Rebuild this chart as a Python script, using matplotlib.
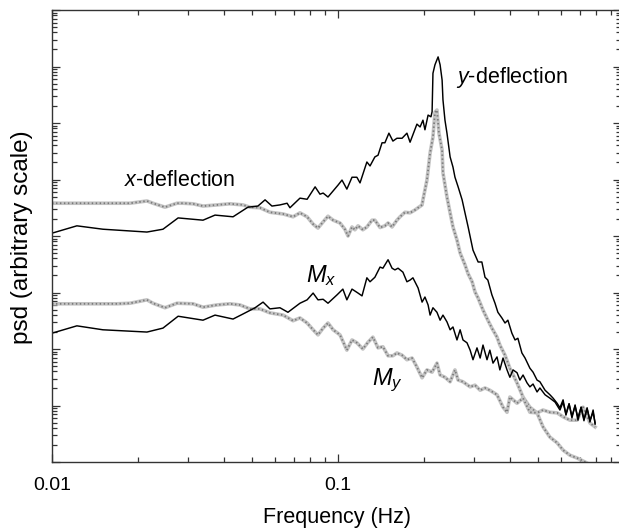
import numpy as np
import matplotlib
matplotlib.use("Agg")
import matplotlib.pyplot as plt
from matplotlib.ticker import LogLocator, NullFormatter, FixedLocator, FixedFormatter

plt.rcParams['font.family'] = ['Liberation Sans', 'DejaVu Sans']
plt.rcParams['mathtext.fontset'] = 'custom'
plt.rcParams['mathtext.it'] = 'Liberation Sans:italic'
plt.rcParams['mathtext.rm'] = 'Liberation Sans'

# ---- data: log10(frequency / Hz) and log10(psd, arbitrary units) ----
ydef_logf = [-2.000, -1.913, -1.822, -1.668, -1.612, -1.559, -1.472, -1.430, -1.367, -1.315,
             -1.280, -1.255, -1.231, -1.203, -1.178, -1.168, -1.133, -1.108, -1.080, -1.063,
             -1.052, -1.035, -1.000, -0.986, -0.969, -0.951, -0.934, -0.923, -0.899, -0.888,
             -0.871, -0.860, -0.846, -0.836, -0.822, -0.808, -0.794, -0.776, -0.759, -0.748,
             -0.724, -0.713, -0.703, -0.696, -0.685, -0.675, -0.671, -0.668, -0.661, -0.654,
             -0.650, -0.643, -0.636, -0.633, -0.626, -0.619, -0.608, -0.598, -0.591, -0.580,
             -0.566, -0.556, -0.545, -0.528, -0.510, -0.497, -0.486, -0.476, -0.462, -0.451,
             -0.441, -0.427, -0.416, -0.406, -0.392, -0.381, -0.371, -0.357, -0.346, -0.329,
             -0.318, -0.304, -0.294, -0.276, -0.259, -0.248, -0.234, -0.224, -0.213, -0.203,
             -0.192, -0.182, -0.171, -0.161, -0.150, -0.140, -0.129, -0.119, -0.108, -0.101]
ydef_logp = [4.05, 4.18, 4.12, 4.07, 4.12, 4.32, 4.28, 4.37, 4.34, 4.51,
             4.53, 4.64, 4.53, 4.55, 4.58, 4.50, 4.67, 4.65, 4.87, 4.74,
             4.76, 4.69, 4.90, 4.99, 4.83, 5.04, 5.04, 4.94, 5.31, 5.24,
             5.40, 5.43, 5.65, 5.65, 5.82, 5.68, 5.73, 5.73, 5.82, 5.66,
             5.98, 5.93, 6.05, 5.88, 6.14, 6.11, 6.20, 6.88, 7.03, 7.12,
             7.17, 7.03, 6.76, 6.41, 6.05, 5.82, 5.40, 5.22, 5.04, 4.87,
             4.64, 4.41, 4.16, 3.75, 3.54, 3.54, 3.27, 3.22, 2.96, 2.81,
             2.65, 2.55, 2.46, 2.51, 2.28, 2.16, 2.19, 1.93, 1.84, 1.66,
             1.59, 1.45, 1.42, 1.27, 1.19, 1.13, 1.04, 0.96, 1.10, 0.83,
             1.03, 0.78, 1.01, 0.74, 0.97, 0.73, 0.96, 0.71, 0.92, 0.67]

xdef_logf = [-2.000, -1.773, -1.727, -1.668, -1.647, -1.605, -1.563, -1.542, -1.507, -1.472,
             -1.423, -1.378, -1.332, -1.308, -1.273, -1.238, -1.192, -1.157, -1.133, -1.108,
             -1.087, -1.070, -1.052, -1.035, -1.017, -0.993, -0.976, -0.965, -0.951, -0.941,
             -0.930, -0.913, -0.899, -0.881, -0.871, -0.853, -0.836, -0.825, -0.811, -0.794,
             -0.783, -0.766, -0.748, -0.731, -0.720, -0.706, -0.703, -0.689, -0.678, -0.668,
             -0.661, -0.654, -0.647, -0.636, -0.633, -0.619, -0.608, -0.598, -0.584, -0.573,
             -0.556, -0.545, -0.531, -0.521, -0.510, -0.493, -0.476, -0.462, -0.444, -0.434,
             -0.416, -0.399, -0.374, -0.353, -0.329, -0.304, -0.283, -0.259, -0.234, -0.213,
             -0.189, -0.164, -0.136, -0.119]
xdef_logp = [4.58, 4.58, 4.58, 4.62, 4.58, 4.51, 4.58, 4.58, 4.57, 4.53,
             4.55, 4.57, 4.55, 4.51, 4.50, 4.42, 4.39, 4.34, 4.41, 4.34,
             4.21, 4.14, 4.25, 4.35, 4.28, 4.23, 4.12, 4.00, 4.16, 4.11,
             4.18, 4.11, 4.16, 4.28, 4.28, 4.15, 4.18, 4.23, 4.16, 4.28,
             4.34, 4.42, 4.41, 4.46, 4.50, 4.55, 4.64, 4.99, 5.47, 5.75,
             6.19, 6.23, 5.82, 5.52, 5.12, 4.69, 4.41, 4.16, 3.93, 3.70,
             3.49, 3.33, 3.19, 3.01, 2.90, 2.69, 2.51, 2.37, 2.21, 2.07,
             1.89, 1.66, 1.40, 1.15, 0.97, 0.87, 0.62, 0.44, 0.34, 0.21,
             0.12, 0.07, 0.00, -0.05]

mx_logf = [-2.000, -1.913, -1.822, -1.668, -1.612, -1.559, -1.472, -1.430, -1.367, -1.332,
           -1.290, -1.262, -1.238, -1.203, -1.175, -1.133, -1.108, -1.087, -1.070, -1.052,
           -1.035, -1.003, -0.983, -0.969, -0.951, -0.930, -0.916, -0.899, -0.888, -0.871,
           -0.853, -0.843, -0.825, -0.811, -0.801, -0.790, -0.773, -0.759, -0.748, -0.738,
           -0.720, -0.706, -0.696, -0.685, -0.678, -0.668, -0.654, -0.643, -0.633, -0.619,
           -0.608, -0.598, -0.584, -0.573, -0.563, -0.549, -0.538, -0.528, -0.514, -0.503,
           -0.493, -0.479, -0.469, -0.458, -0.444, -0.434, -0.423, -0.409, -0.399, -0.388,
           -0.374, -0.364, -0.353, -0.339, -0.329, -0.318, -0.304, -0.294, -0.276, -0.259,
           -0.241, -0.224, -0.213, -0.203, -0.192, -0.182, -0.171, -0.161, -0.150, -0.140,
           -0.129, -0.119, -0.108, -0.101]
mx_logp = [2.28, 2.41, 2.34, 2.30, 2.37, 2.58, 2.51, 2.60, 2.53, 2.62,
           2.73, 2.83, 2.71, 2.73, 2.65, 2.81, 2.87, 2.99, 2.87, 2.88,
           2.81, 2.96, 3.06, 2.87, 3.06, 2.99, 2.94, 3.26, 3.19, 3.27,
           3.45, 3.43, 3.58, 3.43, 3.40, 3.43, 3.36, 3.19, 3.22, 3.26,
           3.08, 2.83, 2.92, 2.78, 2.60, 2.73, 2.65, 2.51, 2.60, 2.48,
           2.34, 2.39, 2.16, 2.34, 2.16, 2.11, 1.98, 1.81, 2.02, 1.84,
           2.07, 1.81, 1.98, 1.75, 1.86, 1.63, 1.84, 1.63, 1.50, 1.63,
           1.58, 1.45, 1.54, 1.40, 1.33, 1.38, 1.24, 1.31, 1.19, 1.13,
           1.06, 0.92, 1.06, 0.85, 1.03, 0.81, 0.99, 0.78, 0.97, 0.76,
           0.94, 0.74, 0.88, 0.69]

my_logf = [-2.000, -1.773, -1.727, -1.668, -1.647, -1.605, -1.563, -1.507, -1.472, -1.423,
           -1.378, -1.343, -1.308, -1.273, -1.238, -1.192, -1.157, -1.133, -1.108, -1.087,
           -1.070, -1.052, -1.035, -1.017, -0.993, -0.969, -0.951, -0.934, -0.913, -0.895,
           -0.878, -0.860, -0.843, -0.825, -0.808, -0.794, -0.776, -0.759, -0.741, -0.724,
           -0.706, -0.689, -0.671, -0.654, -0.643, -0.626, -0.608, -0.591, -0.580, -0.563,
           -0.538, -0.521, -0.503, -0.486, -0.469, -0.444, -0.423, -0.409, -0.399, -0.374,
           -0.353, -0.329, -0.304, -0.283, -0.259, -0.234, -0.213, -0.189, -0.164, -0.143,
           -0.119, -0.101]
my_logp = [2.80, 2.80, 2.81, 2.87, 2.81, 2.73, 2.81, 2.80, 2.74, 2.78,
           2.80, 2.78, 2.71, 2.71, 2.64, 2.60, 2.50, 2.55, 2.46, 2.34,
           2.25, 2.37, 2.46, 2.34, 2.25, 1.98, 2.16, 2.11, 2.00, 2.12,
           2.21, 2.02, 2.04, 1.88, 1.88, 1.93, 1.89, 1.81, 1.84, 1.68,
           1.49, 1.63, 1.59, 1.75, 1.54, 1.50, 1.42, 1.63, 1.45, 1.42,
           1.33, 1.36, 1.27, 1.31, 1.27, 1.19, 0.97, 0.88, 1.15, 1.04,
           1.13, 0.88, 0.87, 0.92, 0.88, 0.87, 0.80, 0.74, 0.74, 0.97,
           0.69, 0.62]

xtick_vals = [0.01, 0.1, 1.0]
xtick_labels = ["0.01", "0.1", "1"]

# ---- figure ----
W, H = 619, 531
fig = plt.figure(figsize=(W / 100, H / 100), dpi=100)
ax_l, ax_r, ax_t, ax_b = 52, 621, 10, 462
ax = fig.add_axes([ax_l / W, 1 - ax_b / H, (ax_r - ax_l) / W, (ax_b - ax_t) / H])

def P(a):
    return np.power(10.0, np.asarray(a))

# gray "hatched" curves: light base plus darker speckle
for lf, lp in ((xdef_logf, xdef_logp), (my_logf, my_logp)):
    ax.plot(P(lf), P(lp), color='#c4c4c4', lw=2.6, solid_joinstyle='round')
    ax.plot(P(lf), P(lp), color='#7a7a7a', lw=1.3, linestyle=(0, (0.8, 1.4)))
ax.plot(P(ydef_logf), P(ydef_logp), color='black', lw=1.05)
ax.plot(P(mx_logf), P(mx_logp), color='black', lw=1.05)

ax.set_xscale('log')
ax.set_yscale('log')
ax.set_xlim(0.01, 10 ** (-2 + (ax_r - ax_l) / 286.0))
ax.set_ylim(1.0, 1e8)

ax.xaxis.set_major_locator(FixedLocator(xtick_vals))
ax.xaxis.set_major_formatter(FixedFormatter(xtick_labels))
ax.xaxis.set_minor_locator(LogLocator(base=10, subs=np.arange(2, 10), numticks=20))
ax.xaxis.set_minor_formatter(NullFormatter())
ax.yaxis.set_major_locator(LogLocator(base=10, numticks=20))
ax.yaxis.set_minor_locator(LogLocator(base=10, subs=np.arange(2, 10), numticks=20))
ax.yaxis.set_major_formatter(NullFormatter())
ax.yaxis.set_minor_formatter(NullFormatter())

ax.tick_params(which='both', direction='in', top=True, right=True, width=0.9, color='#333333')
ax.tick_params(which='major', length=6)
ax.tick_params(which='minor', length=3.5)
ax.tick_params(axis='x', which='major', labelsize=14, pad=11)
for s in ax.spines.values():
    s.set_linewidth(1.0)
    s.set_color('#333333')

ax.set_xlabel('Frequency (Hz)', fontsize=15.5)
ax.set_ylabel('psd (arbitrary scale)', fontsize=17.5)
ax.xaxis.set_label_coords((337 - ax_l) / (ax_r - ax_l), (ax_b - 517) / (ax_b - ax_t), transform=ax.transAxes)
ax.yaxis.set_label_coords((22 - ax_l) / (ax_r - ax_l), (ax_b - 237) / (ax_b - ax_t), transform=ax.transAxes)
ax.xaxis.label.set_va('center')
ax.yaxis.label.set_va('center')

def ftext(px, py, s, size):
    fig.text(px / W, 1 - py / H, s, fontsize=size, ha='center', va='center')

ftext(180, 180, r'$x$-deflection', 15.5)
ftext(512, 77, r'$y$-deflection', 15.5)
ftext(321, 276, r'$M_x$', 17)
ftext(387, 380, r'$M_y$', 17)

fig.savefig('out.png', dpi=100)
